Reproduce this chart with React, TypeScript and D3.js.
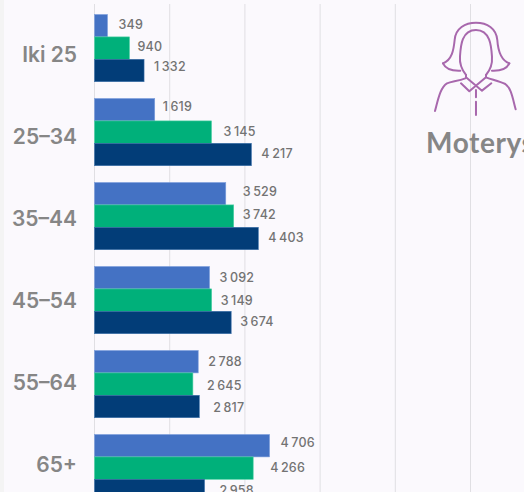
import React from "react";
import * as d3 from "d3";

const width = 524;
const height = 492;

// age groups and the three (unnamed in this crop) series
const categories = ["Iki 25", "25–34", "35–44", "45–54", "55–64", "65+"];
const seriesNames = ["a", "b", "c"];
const seriesA = [349, 1619, 3529, 3092, 2788, 4706];
const seriesB = [940, 3145, 3742, 3149, 2645, 4266];
const seriesC = [1332, 4217, 4403, 3674, 2817, 2958];
const seriesValues = [seriesA, seriesB, seriesC];
const gridSteps = [0, 1, 2, 3, 4, 5];

const colors = ["#4472c4", "#00b07a", "#023d78"];
const strokes = ["#7d9fdc", "#4fd0a6", "#3f73ab"];

// labels in the original were placed by hand, so they don't sit at a fixed offset
const labelDx = [
  [11, 8, 17, 10, 10, 11],
  [8, 12, 9, 9, 14, 17],
  [10, 10, 10, 9, 14, 15],
];
const labelDy = [
  [-1, -3, -2, 0, 0, -3],
  [-2, -1, -2, 0, 1, -1],
  [-4, -1, -1, -1, 1, 0],
];

const fmt = d3.formatLocale({
  decimal: ",",
  thousands: "\u2009",
  grouping: [3],
  currency: ["", ""],
}).format(",d");

const x = d3.scaleLinear().domain([0, 12000]).range([94.5, 94.5 + 12000 * 0.0372]);
const gridX = d3.scaleLinear().domain([0, 5]).range([94.5, 470.5]);
const y = d3
  .scaleBand()
  .domain(categories)
  .range([14.5, 14.5 + 84 * 5.8])
  .paddingInner(0.2)
  .paddingOuter(0);
const y1 = d3.scaleBand().domain(seriesNames).range([0, y.bandwidth()]);
// category labels run on a slightly tighter step than the bars
const labelY = d3.scalePoint().domain(categories).range([62, 472]);

const WomanIcon = () => (
  <g
    transform="translate(262,0) scale(0.3333)"
    fill="none"
    stroke="#a868ad"
    strokeWidth={6}
    strokeLinecap="round"
    strokeLinejoin="round"
  >
    <path d="M543 190C570 180 575 150 578 120C580 85 610 68 642 68C675 68 703 85 706 120C708 150 715 180 742 190" />
    <path d="M543 190C550 205 570 213 595 212M742 190C735 205 715 213 690 212" />
    <path d="M612 225C600 210 592 195 594 170C596 140 598 90 642 90C685 90 688 140 690 170C692 195 685 210 672 225" />
    <path d="M612 225L612 232L660 272L688 250M672 225L672 232L622 274L597 250" />
    <path d="M610 235C590 242 570 245 555 250C535 262 528 300 519 333" />
    <path d="M674 233C695 240 715 245 730 252C748 265 752 295 761 328" />
    <path d="M642 270L642 292M642 305L642 345" />
  </g>
);

export default function App() {
  return (
    <svg
      width={width}
      height={height}
      viewBox={`0 0 ${width} ${height}`}
      style={{ position: "fixed", top: 0, left: 0, display: "block" }}
    >
      <rect width={width} height={height} fill="#fbf9fd" />
      <rect width={4} height={height} fill="#f4f4f4" />

      {gridSteps.map((d) => (
        <line
          key={d}
          x1={gridX(d)}
          x2={gridX(d)}
          y1={4}
          y2={height}
          stroke="#e0dfe3"
          strokeWidth={1}
        />
      ))}

      {categories.map((cat, i) => (
        <g key={cat}>
          <text
            x={77}
            y={labelY(cat)}
            textAnchor="end"
            fontFamily="Inter, sans-serif"
            fontWeight={600}
            fontSize={21}
            fill="#868686"
          >
            {cat}
          </text>
          <g transform={`translate(0,${y(cat)})`}>
            {seriesNames.map((s, j) => {
              const v = seriesValues[j][i];
              return (
                <g key={s}>
                  <rect
                    x={x(0)}
                    y={y1(s)}
                    width={x(v) - x(0)}
                    height={y1.bandwidth()}
                    fill={colors[j]}
                    stroke={strokes[j]}
                    strokeWidth={0.6}
                  />
                  <text
                    x={x(v) + labelDx[j][i]}
                    y={y1(s)! + y1.bandwidth() / 2 + 4.5 + labelDy[j][i]}
                    fontFamily="Inter, sans-serif"
                    fontWeight={500}
                    fontSize={12.5}
                    letterSpacing={0.2}
                    fill="#737373"
                  >
                    {fmt(v)}
                  </text>
                </g>
              );
            })}
          </g>
        </g>
      ))}

      <WomanIcon />
      <text
        x={426}
        y={153}
        fontFamily="Lato, sans-serif"
        fontWeight={700}
        fontSize={28}
        letterSpacing={0.6}
        fill="#868686"
      >
        Moterys
      </text>
    </svg>
  );
}
